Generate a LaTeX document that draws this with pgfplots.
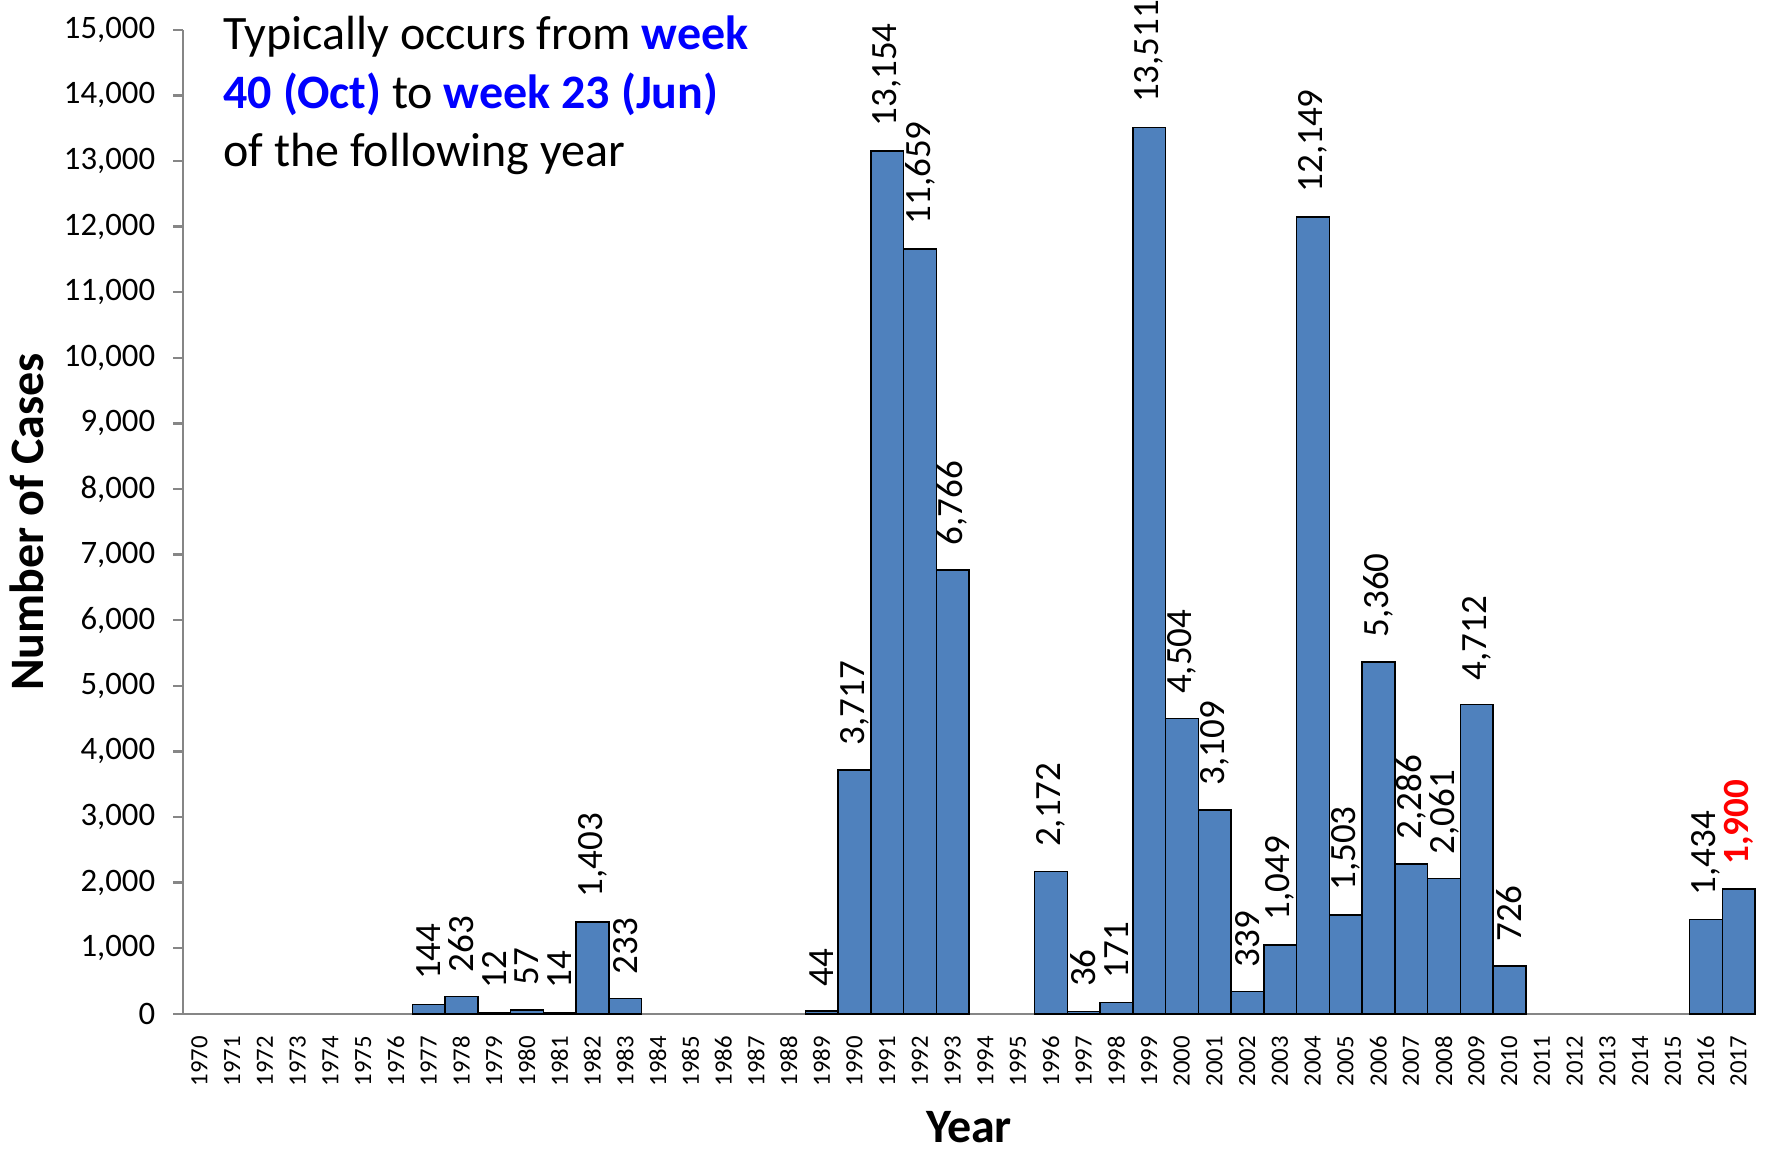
\documentclass[border=0pt]{standalone}
\usepackage{pgfplots}
\pgfplotsset{compat=1.18}
\usepackage{fontspec}
\setmainfont{Carlito}

\definecolor{barblue}{RGB}{79,129,189}
\definecolor{axisgray}{RGB}{134,134,134}
\definecolor{noteblue}{RGB}{0,0,255}
\definecolor{notered}{RGB}{255,0,0}

\begin{document}
\begin{tikzpicture}
\begin{axis}[
    scale only axis, width=628.8pt, height=393.6pt,
    ybar, bar width=1, bar shift=0pt,
    xmin=1969.5, xmax=2017.5, ymin=0, ymax=15000,
    axis x line*=bottom, axis y line*=left,
    axis line style={axisgray, line width=0.9pt, -},
    clip=false,
    tick align=outside, major tick length=4pt,
    xtick={1970,...,2017}, xtick style={draw=none},
    scaled x ticks=false, scaled y ticks=false,
    xticklabel style={rotate=90, anchor=east, xshift=-1.4pt,
        font=\fontsize{9.9}{11}\selectfont,
        /pgf/number format/1000 sep={}},
    ytick={0,1000,...,15000}, ytick style={axisgray, line width=0.9pt},
    yticklabel style={font=\fontsize{13.1}{15}\selectfont, xshift=-3.6pt,
        /pgf/number format/1000 sep={,}},
    /pgf/number format/assume math mode=true,
    xlabel={Year}, ylabel={Number of Cases},
    xlabel style={font=\bfseries\fontsize{19.2}{22}\selectfont,
        at={(axis description cs:0.5,0)}, anchor=center, yshift=-45.2pt},
    ylabel style={font=\bfseries\fontsize{19.2}{22}\selectfont,
        at={(axis description cs:-0.0992,0.5)}, anchor=center},
    nodes near coords,
    every node near coord/.append style={rotate=90, anchor=west,
        font=\fontsize{14.8}{16}\selectfont, inner sep=0pt, xshift=9.5pt,
        /pgf/number format/1000 sep={,}},
]
\addplot[fill=barblue, draw=black, line width=0.6pt] coordinates {
    (1977,144) (1978,263) (1979,12) (1980,57) (1981,14) (1982,1403) (1983,233)
    (1989,44) (1990,3717) (1991,13154) (1992,11659) (1993,6766)
    (1996,2172) (1997,36) (1998,171) (1999,13511) (2000,4504) (2001,3109)
    (2002,339) (2003,1049) (2004,12149) (2005,1503) (2006,5360) (2007,2286)
    (2008,2061) (2009,4712) (2010,726) (2016,1434)
};
\addplot[fill=barblue, draw=black, line width=0.6pt,
    every node near coord/.append style={text=notered, font=\bfseries\fontsize{14.8}{16}\selectfont}]
    coordinates {(2017,1900)};

\node[anchor=base west, inner sep=0pt, font=\fontsize{19.2}{22}\selectfont,
    xshift=16pt, yshift=-8pt] at (rel axis cs:0,1)
    {Typically occurs from \textcolor{noteblue}{\bfseries week}};
\node[anchor=base west, inner sep=0pt, font=\fontsize{19.2}{22}\selectfont,
    xshift=16pt, yshift=-31.3pt] at (rel axis cs:0,1)
    {\textcolor{noteblue}{\bfseries 40 (Oct)} to \textcolor{noteblue}{\bfseries week 23 (Jun)}};
\node[anchor=base west, inner sep=0pt, font=\fontsize{19.2}{22}\selectfont,
    xshift=16pt, yshift=-54.6pt] at (rel axis cs:0,1)
    {of the following year};
\end{axis}
\path (current axis.south west) ++(-73.2pt,-51.2pt) rectangle
    ([shift={(6.8pt,11.2pt)}]current axis.north east);
\end{tikzpicture}
\end{document}
